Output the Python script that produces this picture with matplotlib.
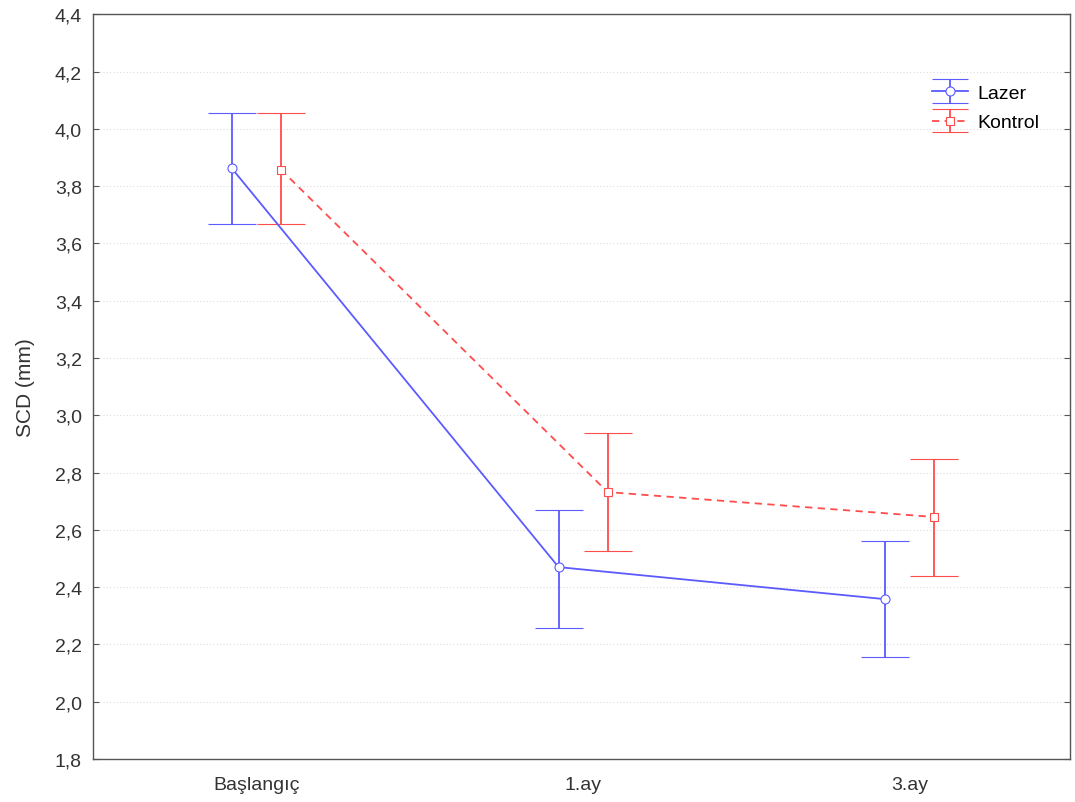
import matplotlib.pyplot as plt
from matplotlib.ticker import FuncFormatter, MultipleLocator
from matplotlib.legend_handler import HandlerErrorbar
from matplotlib.lines import Line2D

plt.rcParams['font.family'] = ['Liberation Sans', 'DejaVu Sans']

# dati
categories = ['Başlangıç', '1.ay', '3.ay']
lazer_mean = [3.862, 2.470, 2.358]
lazer_low = [3.669, 2.259, 2.155]
lazer_high = [4.054, 2.671, 2.561]
kontrol_mean = [3.858, 2.732, 2.645]
kontrol_low = [3.669, 2.525, 2.440]
kontrol_high = [4.054, 2.938, 2.849]

blue = '#5b5bff'
red = '#ff4c4c'
offset = 0.075


# handler della legenda con cappucci piu' corti
class CapHandler(HandlerErrorbar):
    def create_artists(self, *args, **kwargs):
        arts = super().create_artists(*args, **kwargs)
        for a in arts:
            if isinstance(a, Line2D) and a.get_marker() == '_':
                a.set_markersize(26)
        return arts


fig = plt.figure(figsize=(10.75, 8.03), dpi=100)
ax = fig.add_axes([0.0865, 0.0535, 0.9088, 0.9275])

x = list(range(len(categories)))
xl = [i - offset for i in x]
xk = [i + offset for i in x]

ax.errorbar(xl, lazer_mean,
            yerr=[[m - l for m, l in zip(lazer_mean, lazer_low)],
                  [h - m for m, h in zip(lazer_mean, lazer_high)]],
            color=blue, lw=1.3, capsize=17, capthick=1.3, elinewidth=1.3,
            marker='o', ms=6.5, mfc='white', mec=blue, mew=0.8, label='Lazer')
ax.errorbar(xk, kontrol_mean,
            yerr=[[m - l for m, l in zip(kontrol_mean, kontrol_low)],
                  [h - m for m, h in zip(kontrol_mean, kontrol_high)]],
            color=red, lw=1.3, ls='--', dashes=(4, 3), capsize=17, capthick=1.3,
            elinewidth=1.3, marker='s', ms=6, mfc='white', mec=red, mew=0.8,
            label='Kontrol')

ax.set_xlim(-0.5, 2.49)
ax.set_ylim(1.8, 4.4)
ax.yaxis.set_major_locator(MultipleLocator(0.2))
ax.yaxis.set_major_formatter(FuncFormatter(lambda v, p: f'{v:.1f}'.replace('.', ',')))
ax.set_xticks(x)
ax.set_xticklabels(categories)
ax.tick_params(axis='y', direction='in', length=4, right=True, labelsize=14,
               colors='#555555', labelcolor='#333333', pad=8)
ax.tick_params(axis='x', length=0, labelsize=14, labelcolor='#333333', pad=12)
ax.grid(axis='y', ls=(0, (1, 2)), color='#dddddd', lw=0.8)
ax.set_axisbelow(True)
for s in ax.spines.values():
    s.set_color('#555555')
    s.set_linewidth(1.0)

ax.set_ylabel('SCD (mm)', fontsize=15, color='#333333', labelpad=14)

ax.legend(loc='upper right', bbox_to_anchor=(0.969, 0.906), frameon=False,
          fontsize=14, handlelength=1.85, handletextpad=0.5, labelspacing=0.61,
          borderpad=0, borderaxespad=0,
          handler_map={type(ax.containers[0]): CapHandler(xerr_size=0.6)})

fig.savefig('out.png', dpi=100)
